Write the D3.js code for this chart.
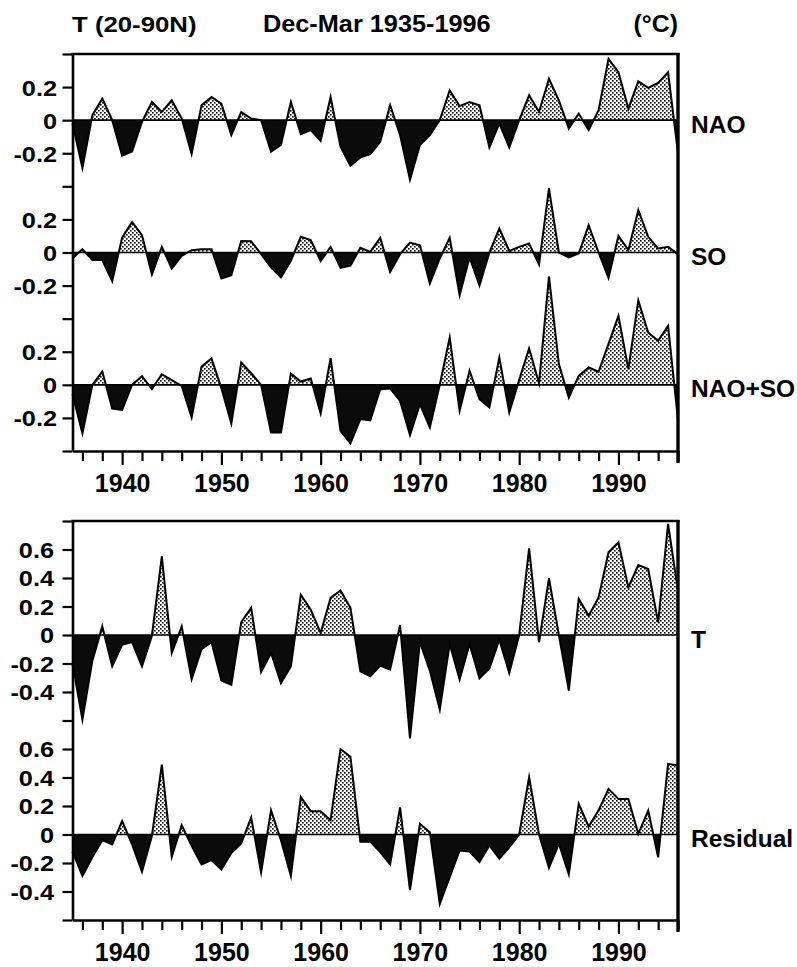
<!DOCTYPE html>
<html>
<head>
<meta charset="utf-8">
<script src="https://cdn.jsdelivr.net/npm/d3@7"></script>
<style>
  body { margin: 0; background: #fff; }
  svg { display: block; }
  text { font-family: "Liberation Sans", Arial, Helvetica, sans-serif; font-weight: bold; fill: #000; }
</style>
</head>
<body>
<svg id="chart" width="797" height="967"></svg>
<script>
// Winter (Dec-Mar) temperature anomalies, 20-90N, 1935-1996 (deg C)
const years = d3.range(1935, 1997);

const nao = [
  -0.02, -0.29, 0.03, 0.13, 0.0, -0.215, -0.19, -0.01, 0.11, 0.05,
  0.12, 0.01, -0.205, 0.09, 0.14, 0.10, -0.09, 0.05, 0.01, 0.0,
  -0.19, -0.15, 0.11, -0.085, -0.06, -0.125, 0.14, -0.16, -0.275, -0.225,
  -0.205, -0.13, 0.09, -0.09, -0.36, -0.15, -0.09, 0.0, 0.18, 0.085,
  0.11, 0.09, -0.165, -0.02, -0.165, 0.0, 0.15, 0.05, 0.25, 0.12,
  -0.05, 0.04, -0.06, 0.06, 0.37, 0.29, 0.07, 0.235, 0.195, 0.225,
  0.29, -0.2
];

const so = [
  -0.036, 0.02, -0.046, -0.046, -0.173, 0.09, 0.185, 0.105, -0.133, 0.034,
  -0.097, -0.02, 0.014, 0.02, 0.02, -0.157, -0.137, 0.07, 0.068, -0.01,
  -0.09, -0.15, -0.05, 0.095, 0.075, -0.052, 0.034, -0.093, -0.08, 0.028,
  0.004, 0.089, -0.117, -0.01, 0.06, 0.044, -0.187, -0.036, 0.089, -0.258,
  -0.03, -0.2, 0.0, 0.145, 0.01, 0.034, 0.054, -0.073, 0.387, 0.0,
  -0.03, -0.006, 0.165, 0.0, -0.153, 0.1, 0.014, 0.256, 0.095, 0.024,
  0.034, -0.01
];

const naoSo = [
  -0.056, -0.294, 0.0, 0.08, -0.143, -0.151, 0.0, 0.052, -0.026, 0.064,
  0.028, -0.006, -0.197, 0.11, 0.159, -0.02, -0.234, 0.135, 0.07, 0.0,
  -0.288, -0.288, 0.068, 0.02, 0.038, -0.173, 0.161, -0.278, -0.354, -0.207,
  -0.215, -0.026, -0.022, -0.097, -0.304, -0.117, -0.258, 0.0, 0.286, -0.157,
  0.085, -0.087, -0.137, 0.165, -0.167, 0.03, 0.22, 0.01, 0.655, 0.125,
  -0.077, 0.054, 0.105, 0.079, 0.248, 0.417, 0.095, 0.51, 0.316, 0.266,
  0.356, -0.21
];

const tempT = [
  -0.2, -0.594, -0.18, 0.06, -0.22, -0.068, -0.05, -0.22, -0.005, 0.552,
  -0.126, 0.06, -0.31, -0.10, -0.05, -0.32, -0.35, 0.09, 0.19, -0.26,
  -0.126, -0.337, -0.22, 0.283, 0.178, 0.014, 0.26, 0.313, 0.19, -0.255,
  -0.29, -0.215, -0.243, 0.07, -0.725, -0.05, -0.25, -0.524, -0.063, -0.313,
  -0.063, -0.304, -0.234, -0.033, -0.267, 0.0, 0.608, -0.051, 0.398, 0.0,
  -0.39, 0.253, 0.136, 0.264, 0.58, 0.65, 0.334, 0.491, 0.463, 0.089,
  0.78, 0.31
];

const residual = [
  -0.12, -0.29, -0.16, -0.04, -0.07, 0.094, -0.07, -0.262, -0.01, 0.49,
  -0.157, 0.065, -0.08, -0.21, -0.18, -0.245, -0.13, -0.063, 0.12, -0.267,
  0.17, -0.04, -0.29, 0.264, 0.164, 0.164, 0.1, 0.6, 0.545, -0.05,
  -0.05, -0.124, -0.21, 0.19, -0.39, 0.075, 0.016, -0.487, -0.3, -0.112,
  -0.12, -0.194, -0.077, -0.17, -0.09, 0.0, 0.402, 0.0, -0.234, -0.065,
  -0.28, 0.215, 0.056, 0.17, 0.32, 0.25, 0.25, 0.005, 0.168, -0.16,
  0.496, 0.484
];

const upperTickLabels = [0.2, 0, -0.2];
const lowerTickLabels = [0.6, 0.4, 0.2, 0, -0.2, -0.4];
const decadeLabels = [1940, 1950, 1960, 1970, 1980, 1990];
const headerLeft = "T (20-90N)";
const headerMid = "Dec-Mar 1935-1996";
const headerRight = "(°C)";

const svg = d3.select("#chart");
const x = d3.scaleLinear().domain([1935, 1996]).range([72.5, 678]);

// stipple for warm (positive) anomalies
const defs = svg.append("defs");
const pat = defs.append("pattern")
  .attr("id", "stipple").attr("patternUnits", "userSpaceOnUse")
  .attr("width", 4).attr("height", 4);
pat.append("rect").attr("width", 4).attr("height", 4).attr("fill", "#fff");
pat.append("rect").attr("x", 0).attr("y", 0).attr("width", 1.6).attr("height", 1.6).attr("fill", "#000");
pat.append("rect").attr("x", 2).attr("y", 2).attr("width", 1.6).attr("height", 1.6).attr("fill", "#000");

const panels = [
  {
    top: 54, bottom: 451, domain: [-2.0, 0.4], labelGap: 15.5,
    series: [
      { name: "NAO", values: nao, offset: 0, labels: upperTickLabels },
      { name: "SO", values: so, offset: -0.8, labels: upperTickLabels },
      { name: "NAO+SO", values: naoSo, offset: -1.6, labels: upperTickLabels }
    ]
  },
  {
    top: 521, bottom: 920, domain: [-2.0, 0.8], labelGap: 18.5,
    series: [
      { name: "T", values: tempT, offset: 0, labels: lowerTickLabels },
      { name: "Residual", values: residual, offset: -1.4, labels: lowerTickLabels }
    ]
  }
];

let clipId = 0;

panels.forEach(p => {
  const y = d3.scaleLinear().domain(p.domain).range([p.bottom, p.top]);
  const g = svg.append("g");

  // tick positions every 0.2 across the stacked panel, labelled per series
  const nSteps = Math.round((p.domain[1] - p.domain[0]) / 0.2);
  const tickVals = d3.range(nSteps + 1).map(i => Math.round((p.domain[0] + i * 0.2) * 10) / 10);
  const labelMap = new Map();
  p.series.forEach(s => s.labels.forEach(l => labelMap.set(Math.round((l + s.offset) * 10), l)));
  const fmt = v => {
    const k = Math.round(v * 10);
    if (!labelMap.has(k)) return "";
    const l = labelMap.get(k);
    return l === 0 ? "0" : (l < 0 ? "-" : "") + Math.abs(l).toFixed(1);
  };

  // series: filled anomalies, outline and zero line
  p.series.forEach(s => {
    const data = years.map((yr, i) => ({ year: yr, v: s.values[i] }));
    const zeroY = y(s.offset);
    const area = d3.area()
      .x(d => x(d.year))
      .y0(zeroY)
      .y1(d => y(s.offset + d.v));
    const line = d3.line().x(d => x(d.year)).y(d => y(s.offset + d.v));

    const posId = "clip" + (clipId++);
    const negId = "clip" + (clipId++);
    defs.append("clipPath").attr("id", posId).append("rect")
      .attr("x", x(1935)).attr("y", p.top).attr("width", x(1996) - x(1935)).attr("height", zeroY - p.top);
    defs.append("clipPath").attr("id", negId).append("rect")
      .attr("x", x(1935)).attr("y", zeroY).attr("width", x(1996) - x(1935)).attr("height", p.bottom - zeroY);

    g.append("path").datum(data).attr("d", area)
      .attr("fill", "url(#stipple)").attr("clip-path", `url(#${posId})`);
    g.append("path").datum(data).attr("d", area)
      .attr("fill", "#0b0b0b").attr("clip-path", `url(#${negId})`);
    g.append("line")
      .attr("x1", x(1935)).attr("x2", x(1996)).attr("y1", zeroY).attr("y2", zeroY)
      .attr("stroke", "#000").attr("stroke-width", 1.6);
    g.append("path").datum(data).attr("d", line)
      .attr("fill", "none").attr("stroke", "#000").attr("stroke-width", 2)
      .attr("stroke-linejoin", "miter").attr("stroke-miterlimit", 6);

    svg.append("text")
      .attr("x", 691).attr("y", zeroY + 12.5)
      .attr("font-size", 24.5)
      .text(s.name);
  });

  // left axis
  const yAxis = d3.axisLeft(y).tickValues(tickVals).tickFormat(fmt).tickSize(10).tickSizeOuter(0);
  const ya = svg.append("g").attr("transform", `translate(${x(1935)},0)`).call(yAxis);
  ya.select(".domain").attr("stroke-width", 2.6);
  ya.selectAll(".tick line").attr("stroke-width", 2.2);
  ya.selectAll(".tick text")
    .attr("font-size", 22).attr("font-family", null)
    .attr("transform", "scale(1.15,1)")
    .attr("x", -p.labelGap / 1.15)
    .attr("dy", "0.36em");

  // bottom axis
  const xAxis = d3.axisBottom(x).tickValues(d3.range(1936, 1997, 2))
    .tickFormat(d => decadeLabels.includes(d) ? d : "").tickSize(10).tickSizeOuter(0);
  const xa = svg.append("g").attr("transform", `translate(0,${p.bottom})`).call(xAxis);
  xa.select(".domain").attr("stroke-width", 2.6);
  xa.selectAll(".tick line").attr("stroke-width", 2.2)
    .attr("y2", d => d % 10 === 0 ? 14 : 10);
  xa.selectAll(".tick text")
    .attr("font-size", 25).attr("font-family", null)
    .attr("y", 41).attr("dy", 0);

  // top and right frame
  svg.append("line").attr("x1", x(1935) - 1).attr("x2", x(1996) + 1.5)
    .attr("y1", p.top).attr("y2", p.top).attr("stroke", "#000").attr("stroke-width", 2.4);
  svg.append("line").attr("x1", x(1996)).attr("x2", x(1996))
    .attr("y1", p.top - 1).attr("y2", p.bottom + 12).attr("stroke", "#000").attr("stroke-width", 3.4);
});

// header
const header = svg.append("g").attr("font-size", 23);
header.append("text").attr("transform", "translate(72,32) scale(1.12,1)").text(headerLeft);
header.append("text").attr("transform", "translate(263,32) scale(1.1,1)").text(headerMid);
header.append("text").attr("transform", "translate(678,32) scale(1.08,1)").attr("text-anchor", "end").text(headerRight);
</script>
</body>
</html>
